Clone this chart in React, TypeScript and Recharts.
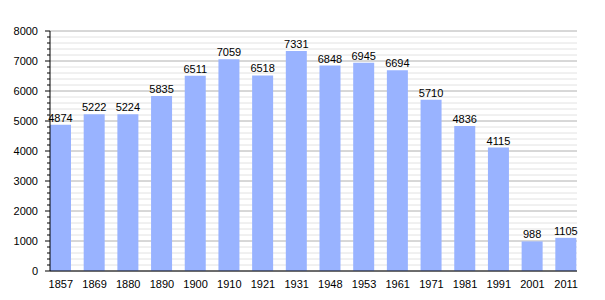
import { BarChart, Bar, XAxis, YAxis, CartesianGrid, LabelList } from 'recharts';

const years = ['1857', '1869', '1880', '1890', '1900', '1910', '1921', '1931', '1948', '1953', '1961', '1971', '1981', '1991', '2001', '2011'];
const population = [4874, 5222, 5224, 5835, 6511, 7059, 6518, 7331, 6848, 6945, 6694, 5710, 4836, 4115, 988, 1105];
const majorTicks = [0, 1000, 2000, 3000, 4000, 5000, 6000, 7000, 8000];
const minorTicks = [
  200, 400, 600, 800, 1200, 1400, 1600, 1800, 2200, 2400, 2600, 2800, 3200, 3400, 3600, 3800,
  4200, 4400, 4600, 4800, 5200, 5400, 5600, 5800, 6200, 6400, 6600, 6800, 7200, 7400, 7600, 7800,
];
const allTicks = [...majorTicks, ...minorTicks].sort((a, b) => a - b);

const data = years.map((year, i) => ({ year, value: population[i] }));

const font = 'Liberation Sans, Arial, sans-serif';

function YTick(props: any) {
  const { y, payload } = props;
  const major = payload.value % 1000 === 0;
  return (
    <g>
      <line x1={major ? 45 : 47} x2={50} y1={y} y2={y} stroke="#000" strokeWidth={1} />
      {major && (
        <text x={38} y={y} dy={4} textAnchor="end" fontSize={11} fontFamily={font} fill="#000">
          {payload.value}
        </text>
      )}
    </g>
  );
}

export default function App() {
  return (
    <div style={{ position: 'absolute', left: 0, top: 0, width: 605, height: 300, background: '#fff' }}>
      <BarChart
        width={605}
        height={300}
        data={data}
        margin={{ top: 31, right: 28, left: 0, bottom: 9 }}
        barCategoryGap={0}
      >
        <CartesianGrid vertical={false} horizontalValues={minorTicks} stroke="#e2e2e2" />
        <CartesianGrid vertical={false} horizontalValues={majorTicks} stroke="#b0b0b0" />
        <XAxis
          dataKey="year"
          height={20}
          padding={{ left: -6, right: -6 }}
          tickLine={false}
          axisLine={{ stroke: '#000', strokeWidth: 1 }}
          tick={{ fill: '#000', fontSize: 11, fontFamily: font }}
          tickMargin={3}
          interval={0}
        />
        <YAxis
          width={50}
          domain={[0, 8000]}
          ticks={allTicks}
          interval={0}
          tickLine={false}
          axisLine={{ stroke: '#000', strokeWidth: 1 }}
          tick={<YTick />}
        />
        <Bar dataKey="value" fill="#99b3ff" barSize={21} isAnimationActive={false}>
          <LabelList dataKey="value" position="top" offset={3} fill="#000" fontSize={11} fontFamily={font} />
        </Bar>
      </BarChart>
    </div>
  );
}
